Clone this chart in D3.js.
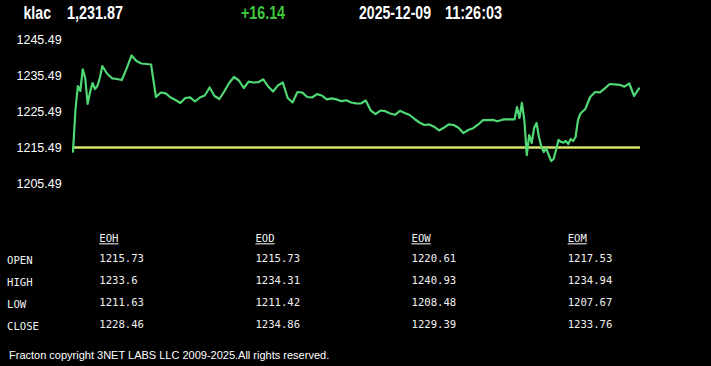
<!DOCTYPE html>
<html>
<head>
<meta charset="utf-8">
<script src="https://cdn.jsdelivr.net/npm/d3@7"></script>
<style>
  html, body { margin: 0; padding: 0; background: #000; }
  svg { display: block; }
</style>
</head>
<body>
<svg id="chart" width="711" height="366"></svg>
<script>
// ---- data ----
const symbol = "klac";
const lastPrice = "1,231.87";
const change = "+16.14";
const dateText = "2025-12-09";
const timeText = "11:26:03";
const prevClose = 1215.73;

// minutes since the open
const times = [
  0, 0.5, 1, 1.5, 2, 2.5, 3, 3.5, 4, 4.5, 5, 5.5, 6,
  7, 8, 9, 10, 11, 12, 13, 14, 15, 16, 17, 18, 19, 20,
  21, 22, 23, 24, 25, 26, 27, 28, 29, 30, 31, 32, 33, 34, 35, 36, 37, 38, 39, 40,
  41, 42, 43, 44, 45, 46, 47, 48, 49, 50, 51, 52, 53, 54, 55, 56, 57, 58, 59, 60,
  61, 62, 63, 64, 65, 66, 67, 68, 69, 70, 71, 72, 73, 74, 75, 76, 77, 78, 79, 80,
  81, 82, 83, 84, 85, 86, 87,
  88, 88.5, 89, 89.5, 90, 90.5, 91, 91.5, 92, 92.5, 93, 93.5, 94, 94.5, 95, 95.5,
  96, 96.5, 97, 97.5, 98, 98.5, 99, 99.5, 100, 100.5, 101, 101.5, 102, 102.5, 103, 103.5, 104,
  105, 106, 107, 108, 109, 110, 111, 112, 113, 114, 115, 116
];
// price at each time
const prices = [
  1214.27, 1225.85, 1232.52, 1231.13, 1237.16, 1234.74, 1227.52, 1230.85, 1233.35, 1231.68, 1232.52, 1234.74, 1238.07,
  1235.91, 1234.66, 1234.46, 1234.18, 1237.43, 1240.99, 1239.46, 1238.77, 1238.63, 1238.49, 1229.46, 1230.71, 1230.49, 1229.32,
  1228.63, 1227.80, 1229.18, 1229.38, 1228.21, 1229.32, 1229.88, 1232.10, 1229.74, 1228.91, 1230.99, 1233.35, 1235.02, 1234.05, 1231.96, 1233.74, 1233.49, 1233.57, 1234.38, 1232.38,
  1230.99, 1232.68, 1233.49, 1229.18, 1227.93, 1230.85, 1230.68, 1229.46, 1229.32, 1230.27, 1229.88, 1228.82, 1229.07, 1228.80, 1228.30, 1228.55, 1227.93, 1227.71, 1227.66, 1228.49,
  1225.77, 1224.68, 1225.71, 1225.52, 1224.88, 1224.52, 1225.63, 1225.02, 1224.46, 1223.35, 1222.38, 1221.68, 1221.85, 1221.21, 1220.18, 1220.91, 1221.88, 1221.68, 1220.91, 1219.43,
  1220.30, 1220.80, 1221.77, 1223.02, 1223.05, 1223.10, 1222.71,
  1223.16, 1223.27, 1223.27, 1223.27, 1223.27, 1223.27, 1226.68, 1223.63, 1227.80, 1223.07, 1213.35, 1218.91, 1216.68, 1220.85, 1222.24, 1218.35,
  1215.57, 1214.18, 1215.21, 1213.35, 1211.68, 1212.24, 1214.74, 1217.52, 1217.02, 1216.77, 1217.24, 1216.41, 1217.80, 1217.24, 1218.35, 1223.07, 1224.88,
  1226.13, 1229.46, 1230.85, 1230.74, 1231.88, 1233.07, 1232.99, 1232.85, 1232.35, 1233.21, 1229.74, 1231.87
];

const yTicks = [1245.49, 1235.49, 1225.49, 1215.49, 1205.49];
const yDomain = [1205.49, 1245.49];

const tableCols = ["EOH", "EOD", "EOW", "EOM"];
const tableRows = ["OPEN", "HIGH", "LOW", "CLOSE"];
const eohValues = ["1215.73", "1233.6", "1211.63", "1228.46"];
const eodValues = ["1215.73", "1234.31", "1211.42", "1234.86"];
const eowValues = ["1220.61", "1240.93", "1208.48", "1229.39"];
const eomValues = ["1217.53", "1234.94", "1207.67", "1233.76"];
const tableValues = [eohValues, eodValues, eowValues, eomValues];

const footerText = "Fracton copyright 3NET LABS LLC 2009-2025.All rights reserved.";

// ---- drawing ----
const svg = d3.select("#chart");
svg.append("rect").attr("width", 711).attr("height", 366).attr("fill", "#000");

// header (condensed bold)
const hdr = svg.append("g").attr("font-family", "'Liberation Sans', Arial, sans-serif")
  .attr("font-weight", "bold").attr("font-size", 18);
const hdrItems = [
  {t: symbol, x: 23.5, w: 27.5, c: "#fff"},
  {t: lastPrice, x: 67, w: 56, c: "#fff"},
  {t: change, x: 241, w: 44, c: "#3ec83e"},
  {t: dateText, x: 359, w: 72, c: "#fff"},
  {t: timeText, x: 445, w: 57, c: "#fff"}
];
hdr.selectAll("text").data(hdrItems).join("text")
  .attr("x", d => d.x).attr("y", 19).attr("fill", d => d.c)
  .attr("textLength", d => d.w).attr("lengthAdjust", "spacingAndGlyphs")
  .text(d => d.t);

// scales
const x = d3.scaleLinear().domain([0, d3.max(times)]).range([73, 639]);
const y = d3.scaleLinear().domain(yDomain).range([183.3, 39.3]);

// y axis labels
const yAxis = d3.axisRight(y).tickValues(yTicks).tickSize(0).tickPadding(0)
  .tickFormat(d => d.toFixed(2));
const ya = svg.append("g").attr("transform", "translate(16.5,0)").call(yAxis);
ya.select(".domain").remove();
ya.selectAll("text").attr("fill", "#fff").attr("font-size", 12.5)
  .attr("font-family", "'Liberation Sans', Arial, sans-serif").attr("dy", "0.36em");

// prev close reference line
svg.append("line")
  .attr("x1", x(0) - 1).attr("x2", 640)
  .attr("y1", y(prevClose) + 1).attr("y2", y(prevClose) + 1)
  .attr("stroke", "#d9e46c").attr("stroke-width", 2.5);

// price line
const line = d3.line().x((d, i) => x(times[i])).y(d => y(d));
svg.append("path").datum(prices)
  .attr("d", line).attr("fill", "none")
  .attr("stroke", "#4fd874").attr("stroke-width", 2.2)
  .attr("stroke-linejoin", "round").attr("stroke-linecap", "round");

// table
const monoFont = "'DejaVu Sans Mono', 'Liberation Mono', monospace";
const tx = d3.scaleLinear().domain([0, tableCols.length - 1]).range([99.3, 567.7]);
const ty = d3.scaleLinear().domain([0, tableRows.length - 1]).range([262.3, 328.3]);
const tg = svg.append("g").attr("font-family", monoFont).attr("font-size", 10.6).attr("fill", "#f2f2f2");
tg.selectAll("text.col").data(tableCols).join("text").attr("class", "col")
  .attr("x", (d, i) => tx(i)).attr("y", 242.3)
  .attr("text-decoration", "underline").text(d => d);
tg.selectAll("text.row").data(tableRows).join("text").attr("class", "row")
  .attr("x", 7).attr("y", (d, i) => ty(i) + 1.2).text(d => d);
tableValues.forEach((col, ci) => {
  tg.selectAll("text.v" + ci).data(col).join("text").attr("class", "v" + ci)
    .attr("x", tx(ci)).attr("y", (d, i) => ty(i)).text(d => d);
});

// footer
svg.append("text").attr("x", 9).attr("y", 359)
  .attr("font-family", "'Liberation Sans', Arial, sans-serif").attr("font-size", 11)
  .attr("fill", "#fff").text(footerText);
</script>
</body>
</html>
